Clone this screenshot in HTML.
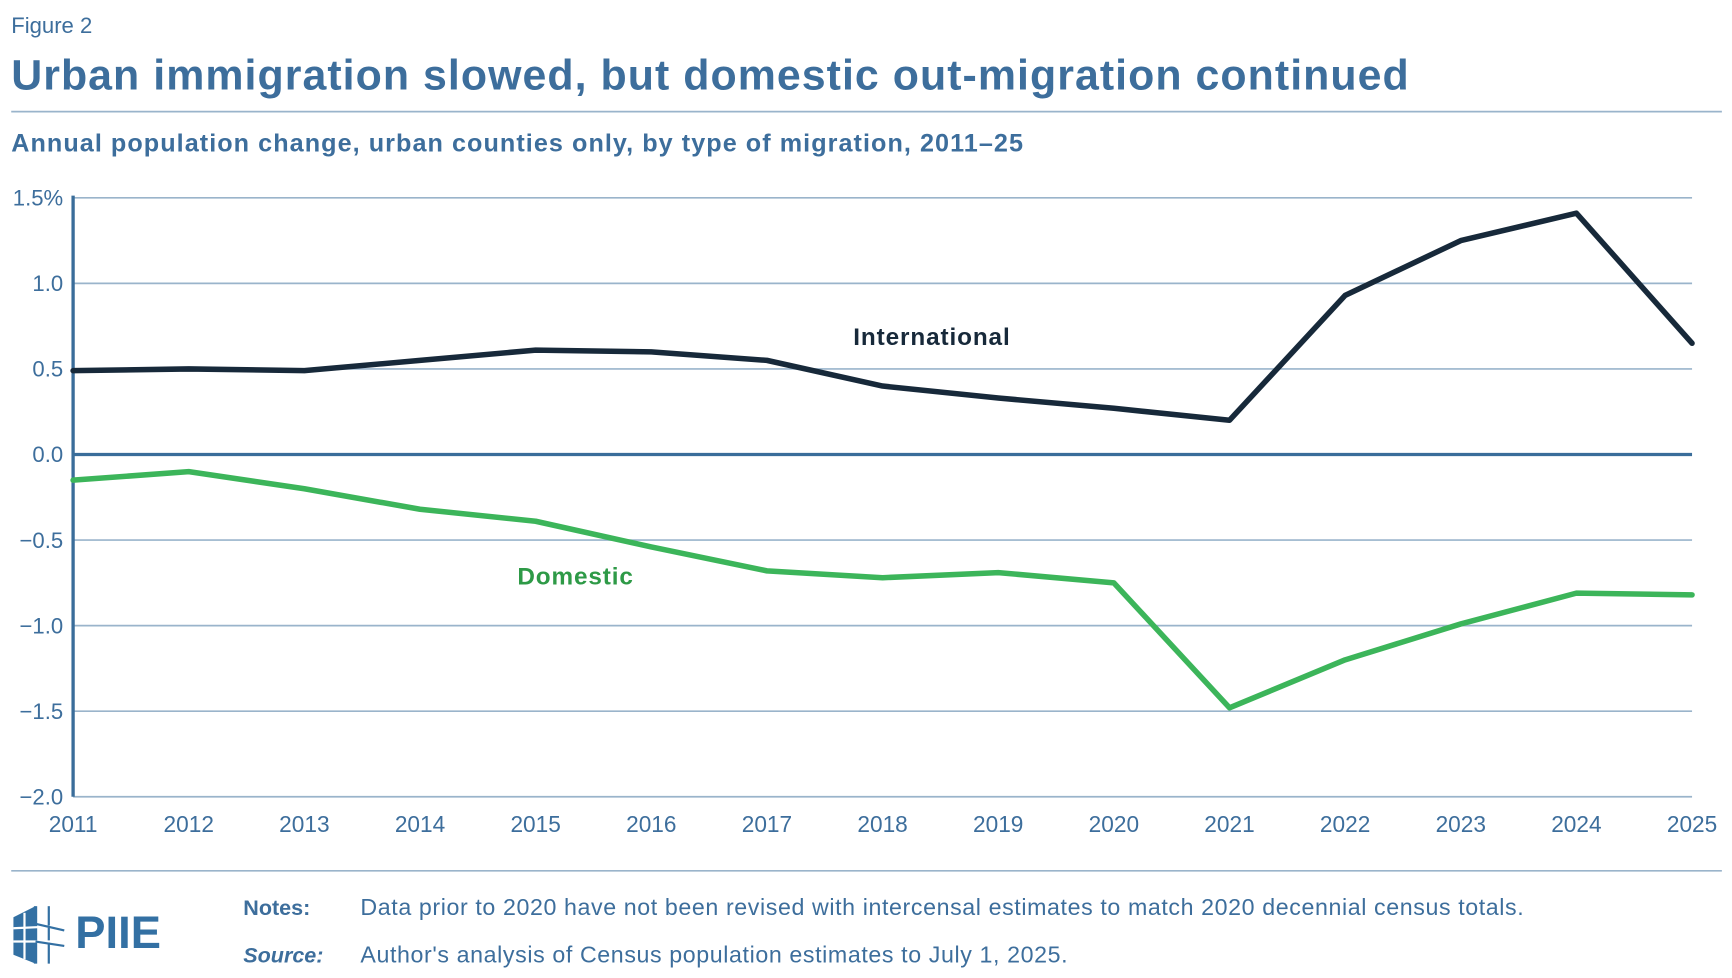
<!DOCTYPE html>
<html><head><meta charset="utf-8"><style>
html,body{margin:0;padding:0;background:#fff;}
svg{display:block;font-family:"Liberation Sans",sans-serif;}
</style></head><body>
<svg id="chart" width="1732" height="978" viewBox="0 0 1567 885" xmlns="http://www.w3.org/2000/svg">
<text x="10" y="30" font-size="20" fill="#3d6e9c">Figure 2</text>
<text x="10" y="81" font-size="38.8" font-weight="bold" fill="#3d6e9c" letter-spacing="0.95">Urban immigration slowed, but domestic out-migration continued</text>
<line x1="10" y1="101" x2="1558" y2="101" stroke="#9ab4cb" stroke-width="1.5"/>
<text x="10" y="137" font-size="22.8" font-weight="bold" fill="#3d6e9c" letter-spacing="0.95">Annual population change, urban counties only, by type of migration, 2011–25</text>
<g id="grid"></g>
<g id="yticks"></g>
<g id="xticks"></g>
<g id="series"></g>
<text x="772" y="312" font-size="22" font-weight="bold" fill="#17293a" letter-spacing="0.8">International</text>
<text x="468" y="529" font-size="22" font-weight="bold" fill="#2e9a47" letter-spacing="0.8">Domestic</text>
<line x1="10" y1="788" x2="1558" y2="788" stroke="#9ab4cb" stroke-width="1.5"/>
<g fill="#3370a3" stroke="#3370a3">
<polygon points="12,830 32,820 32,872 12,864" stroke="none"/>
<line x1="32" y1="820" x2="32" y2="872" stroke-width="3"/>
<line x1="44" y1="820" x2="44" y2="872" stroke-width="2"/>
<line x1="12" y1="840" x2="56" y2="838" stroke="#fff" stroke-width="2"/>
<line x1="12" y1="852" x2="56" y2="852" stroke="#fff" stroke-width="2"/>
<line x1="22" y1="826" x2="22" y2="868" stroke="#fff" stroke-width="2"/>
<line x1="32" y1="836" x2="58" y2="842" stroke-width="2"/>
<line x1="32" y1="852" x2="58" y2="856" stroke-width="2"/>
<text x="68" y="858" font-size="41" font-weight="bold" stroke="none">PIIE</text>
</g>
<text x="220" y="828" font-size="19.5" font-weight="bold" fill="#3d6e9c">Notes:</text>
<text x="326" y="828" font-size="21" fill="#3d6e9c" letter-spacing="0.55">Data prior to 2020 have not been revised with intercensal estimates to match 2020 decennial census totals.</text>
<text x="220" y="871" font-size="19.5" font-weight="bold" font-style="italic" fill="#3d6e9c">Source:</text>
<text x="326" y="871" font-size="21" fill="#3d6e9c" letter-spacing="0.55">Author's analysis of Census population estimates to July 1, 2025.</text>
</svg>
<script>
const years = [2011,2012,2013,2014,2015,2016,2017,2018,2019,2020,2021,2022,2023,2024,2025];
const international = [0.49,0.50,0.49,0.55,0.61,0.60,0.55,0.40,0.33,0.27,0.20,0.93,1.25,1.41,0.65];
const domestic = [-0.15,-0.10,-0.20,-0.32,-0.39,-0.54,-0.68,-0.72,-0.69,-0.75,-1.48,-1.20,-0.99,-0.81,-0.82];
const yTicks = [1.5,1.0,0.5,0.0,-0.5,-1.0,-1.5,-2.0];
const yTickLabels = ["1.5%","1.0","0.5","0.0","\u22120.5","\u22121.0","\u22121.5","\u22122.0"];

const NS="http://www.w3.org/2000/svg";
const X0=66,X1=1531,Y0=179,Y1=721,YMAX=1.5,YMIN=-2.0;
const xs=i=>X0+(X1-X0)*i/(years.length-1);
const ys=v=>Y0+(YMAX-v)/(YMAX-YMIN)*(Y1-Y0);
function mk(tag,attrs,parent){const e=document.createElementNS(NS,tag);for(const k in attrs)e.setAttribute(k,attrs[k]);parent.appendChild(e);return e;}
const grid=document.getElementById('grid'),yt=document.getElementById('yticks'),xt=document.getElementById('xticks'),ser=document.getElementById('series');
yTicks.forEach((v,i)=>{
  if(v!==0){const l=mk('line',{x1:X0,x2:X1,y1:ys(v),y2:ys(v),stroke:'#9ab4cb','stroke-width':1.5},grid);
  
  }
  const t=mk('text',{x:57,y:ys(v)+7,'text-anchor':'end','font-size':20,fill:'#3d6e9c'},yt);
  t.textContent=yTickLabels[i];
  
  
});
years.forEach((y,i)=>{
  const t=mk('text',{x:xs(i),y:753,'text-anchor':'middle','font-size':20.5,fill:'#3d6e9c'},xt);
  t.textContent=y;
  
  
});
function line(vals,color,name){
  const p=mk('polyline',{points:vals.map((v,i)=>xs(i)+','+ys(v)).join(' '),fill:'none',stroke:color,'stroke-width':5,'stroke-linejoin':'round','stroke-linecap':'round'},ser);
  
  
}
const zl=mk('line',{x1:X0,x2:X1,y1:ys(0),y2:ys(0),stroke:'#3a6d9a','stroke-width':3},ser);


const ya=mk('line',{x1:X0,x2:X0,y1:Y0-2,y2:Y1,stroke:'#3a6d9a','stroke-width':3},ser);


line(international,'#17293a','international-line');
line(domestic,'#3cb55a','domestic-line');
</script>
</body></html>
